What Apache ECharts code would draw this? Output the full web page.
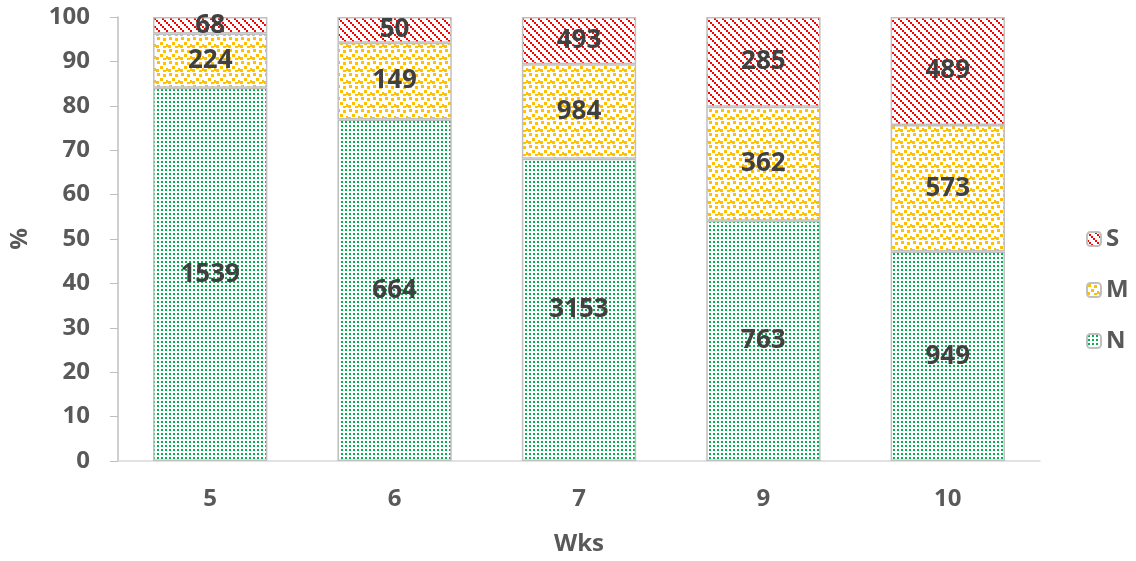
<!DOCTYPE html>
<html>
<head>
<meta charset="utf-8">
<script src="https://cdn.jsdelivr.net/npm/echarts@6/dist/echarts.min.js"></script>
<style>
  html, body { margin: 0; padding: 0; background: #fff; }
  #chart { width: 1136px; height: 561px; }
</style>
</head>
<body>
<div id="chart"></div>
<script>
// weeks on x axis
const weeks = ['5', '6', '7', '9', '10']
// counts per group (shown as labels, bars are % of week total)
const countN = [1539, 664, 3153, 763, 949]
const countM = [224, 149, 984, 362, 573]
const countS = [68, 50, 493, 285, 489]
const yTicks = [0, 10, 20, 30, 40, 50, 60, 70, 80, 90, 100]

const totals = weeks.map((w, i) => countN[i] + countM[i] + countS[i])
const pct = arr => arr.map((v, i) => v / totals[i] * 100)

// small canvas tiles used as fill patterns (like excel pattern fills)
function makeTile(size, color, rects) {
  const c = document.createElement('canvas')
  c.width = size
  c.height = size
  const ctx = c.getContext('2d')
  ctx.fillStyle = '#ffffff'
  ctx.fillRect(0, 0, size, size)
  ctx.fillStyle = color
  rects.forEach(r => ctx.fillRect(r[0], r[1], r[2], r[3]))
  return { image: c, repeat: 'repeat' }
}

const fillS = makeTile(8, '#ff0000', [[0, 0, 2, 2], [2, 2, 2, 2], [4, 4, 2, 2], [6, 6, 2, 2]])
const fillM = makeTile(12, '#ffc000', [
  [1, 1, 3, 3], [7, 2, 3, 3], [4, 6, 3, 3], [10, 8, 3, 3], [0, 9, 3, 3], [7, 10, 3, 2]
])
const fillN = makeTile(4, '#00b050', [[1, 1, 2, 2]])

const chart = echarts.init(document.getElementById('chart'))

const makeSeries = (name, counts, fill) => ({
  name: name,
  type: 'bar',
  stack: 'all',
  barWidth: '62%',
  data: pct(counts),
  itemStyle: {
    color: fill,
    borderColor: '#c0c0c0',
    borderWidth: 1.5
  },
  label: {
    show: true,
    position: 'inside',
    formatter: p => counts[p.dataIndex],
    color: '#404040',
    fontFamily: 'Open Sans',
    fontWeight: 'bold',
    fontSize: 26
  }
})

const axisFont = { color: '#595959', fontFamily: 'Open Sans', fontSize: 24, fontWeight: 'bold' }

const option = {
  animation: false,
  textStyle: { fontFamily: 'Open Sans' },
  grid: { left: 118, right: 96, top: 17, bottom: 99 },
  legend: {
    data: ['S', 'M', 'N'],
    orient: 'vertical',
    left: 1081,
    top: 222,
    itemWidth: 14,
    itemHeight: 14,
    itemGap: 27,
    textStyle: axisFont
  },
  xAxis: {
    type: 'category',
    data: weeks,
    name: 'Wks',
    nameLocation: 'middle',
    nameGap: 71,
    nameTextStyle: axisFont,
    axisLine: { lineStyle: { color: '#d9d9d9', width: 1.5 } },
    axisTick: { show: false },
    axisLabel: Object.assign({ margin: 26 }, axisFont)
  },
  yAxis: {
    type: 'value',
    min: yTicks[0],
    max: yTicks[yTicks.length - 1],
    interval: 10,
    name: '%',
    nameLocation: 'middle',
    nameGap: 86,
    nameTextStyle: axisFont,
    axisLine: { show: true, lineStyle: { color: '#bfbfbf', width: 1.5 } },
    axisTick: { show: true, length: 8, lineStyle: { color: '#bfbfbf' } },
    splitLine: { show: false },
    axisLabel: Object.assign({ margin: 28 }, axisFont)
  },
  series: [
    makeSeries('N', countN, fillN),
    makeSeries('M', countM, fillM),
    makeSeries('S', countS, fillS)
  ]
}

chart.setOption(option)
</script>
</body>
</html>
